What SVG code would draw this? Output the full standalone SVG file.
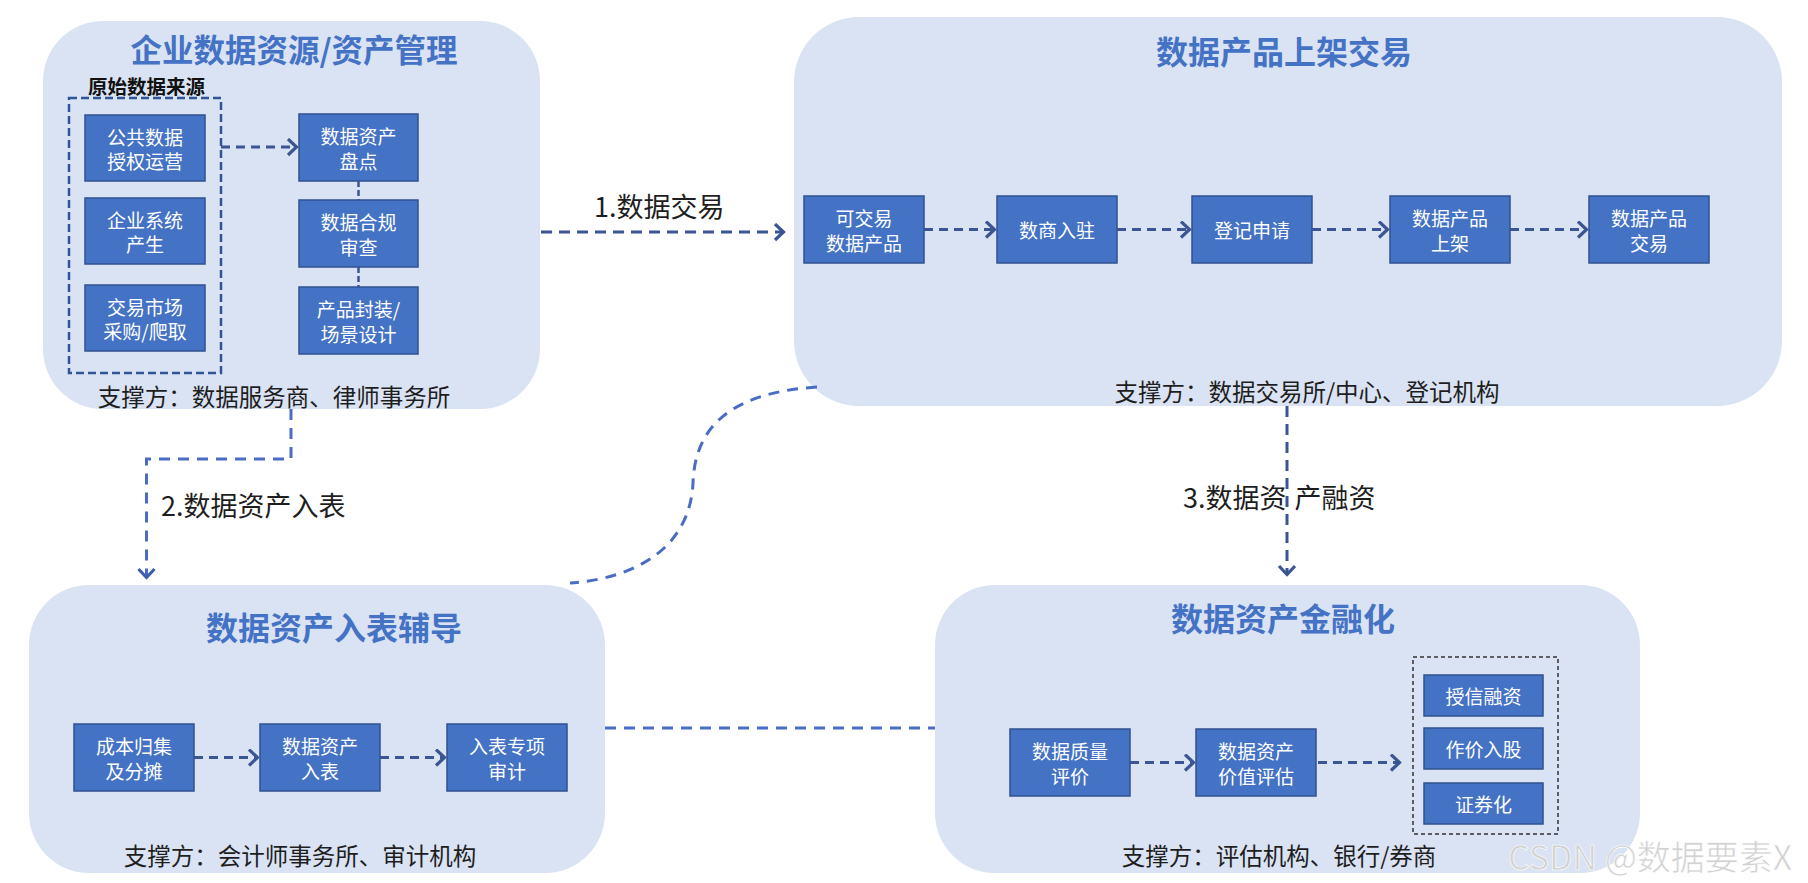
<svg xmlns="http://www.w3.org/2000/svg" width="1808" height="883" viewBox="0 0 1808 883">
<defs>
<style>
text{font-family:"Microsoft YaHei","Noto Sans CJK SC","Noto Sans",sans-serif}
.panel{fill:#DAE3F3}
.title{font-size:32px;font-weight:bold;fill:#4472C4;text-anchor:middle;dominant-baseline:central}
.node rect{fill:#4472C4;stroke:#2F528F;stroke-width:1.5}
.node text{fill:#ffffff;font-size:19px;text-anchor:middle;dominant-baseline:central}
.sup{font-size:23.5px;fill:#1e1e1e;text-anchor:middle;dominant-baseline:central}
.lbl{font-size:27px;fill:#1e1e1e;dominant-baseline:central}
.flow{fill:none;stroke:#3B5593;stroke-width:3;stroke-dasharray:9 6}
.dark{fill:none;stroke:#3B5593;stroke-width:3;stroke-dasharray:11 7}
.light{fill:none;stroke:#4A6CC4;stroke-width:3;stroke-dasharray:11 8}
.solid{fill:none;stroke:#3B5593;stroke-width:2.5;stroke-dasharray:6 3}
</style>
<marker id="arr" markerUnits="userSpaceOnUse" markerWidth="16" markerHeight="20" refX="11" refY="9" orient="auto" viewBox="0 0 16 20">
<path d="M2,1 L10.5,9 L2,17" fill="none" stroke="#3B5593" stroke-width="3.2"/>
</marker>
<marker id="arrL" markerUnits="userSpaceOnUse" markerWidth="16" markerHeight="20" refX="11" refY="9" orient="auto" viewBox="0 0 16 20">
<path d="M2,1 L10.5,9 L2,17" fill="none" stroke="#3F5DAE" stroke-width="3.2"/>
</marker>
</defs>
<rect width="1808" height="883" fill="#ffffff"/>

<g id="panel-enterprise">
<rect class="panel" x="43" y="21" width="497" height="388" rx="60"/>
<text class="title" x="294" y="48" style="font-size:31.5px">企业数据资源/资产管理</text>
<text x="88" y="85" font-size="19.5" font-weight="bold" fill="#111" dominant-baseline="central">原始数据来源</text>
<rect x="69" y="98" width="152" height="275" fill="none" stroke="#2F5597" stroke-width="2.5" stroke-dasharray="8 4"/>
<text class="sup" x="274" y="396">支撑方：数据服务商、律师事务所</text>
</g>
<g id="n-public" class="node"><rect x="85" y="115" width="120" height="66"/><text x="145" y="136">公共数据<tspan x="145" dy="24">授权运营</tspan></text></g>
<g id="n-system" class="node"><rect x="85" y="198" width="120" height="66"/><text x="145" y="219">企业系统<tspan x="145" dy="24">产生</tspan></text></g>
<g id="n-market" class="node"><rect x="85" y="285" width="120" height="66"/><text x="145" y="306">交易市场<tspan x="145" dy="24">采购/爬取</tspan></text></g>
<g id="n-inventory" class="node"><rect x="299" y="114" width="119" height="67"/><text x="358.5" y="135.5">数据资产<tspan x="358.5" dy="24">盘点</tspan></text></g>
<g id="n-compliance" class="node"><rect x="299" y="200" width="119" height="67"/><text x="358.5" y="221.5">数据合规<tspan x="358.5" dy="24">审查</tspan></text></g>
<g id="n-package" class="node"><rect x="299" y="287" width="119" height="67"/><text x="358.5" y="308.5">产品封装/<tspan x="358.5" dy="24">场景设计</tspan></text></g>

<g id="panel-trade">
<rect class="panel" x="794" y="17" width="988" height="389" rx="65"/>
<text class="title" x="1284" y="50">数据产品上架交易</text>
<text class="sup" x="1307" y="391">支撑方：数据交易所/中心、登记机构</text>
</g>
<g id="n-tradable" class="node"><rect x="804" y="196" width="120" height="67"/><text x="864" y="217.5">可交易<tspan x="864" dy="24">数据产品</tspan></text></g>
<g id="n-merchant" class="node"><rect x="997" y="196" width="120" height="67"/><text x="1057" y="229.5">数商入驻</text></g>
<g id="n-register" class="node"><rect x="1192" y="196" width="120" height="67"/><text x="1252" y="229.5">登记申请</text></g>
<g id="n-listing" class="node"><rect x="1390" y="196" width="120" height="67"/><text x="1450" y="217.5">数据产品<tspan x="1450" dy="24">上架</tspan></text></g>
<g id="n-dealing" class="node"><rect x="1589" y="196" width="120" height="67"/><text x="1649" y="217.5">数据产品<tspan x="1649" dy="24">交易</tspan></text></g>

<g id="panel-accounting">
<rect class="panel" x="29" y="585" width="576" height="288" rx="60"/>
<text class="title" x="334" y="626">数据资产入表辅导</text>
<text class="sup" x="300" y="855">支撑方：会计师事务所、审计机构</text>
</g>
<g id="n-cost" class="node"><rect x="74" y="724" width="120" height="67"/><text x="134" y="745.5">成本归集<tspan x="134" dy="24">及分摊</tspan></text></g>
<g id="n-book" class="node"><rect x="260" y="724" width="120" height="67"/><text x="320" y="745.5">数据资产<tspan x="320" dy="24">入表</tspan></text></g>
<g id="n-audit" class="node"><rect x="447" y="724" width="120" height="67"/><text x="507" y="745.5">入表专项<tspan x="507" dy="24">审计</tspan></text></g>

<g id="panel-finance">
<rect class="panel" x="935" y="585" width="705" height="288" rx="60"/>
<text class="title" x="1283" y="617">数据资产金融化</text>
<rect x="1413" y="657" width="145" height="177" fill="none" stroke="#333" stroke-width="1.5" stroke-dasharray="4 3"/>
<text class="sup" x="1279" y="855">支撑方：评估机构、银行/券商</text>
</g>
<g id="n-quality" class="node"><rect x="1010" y="729" width="120" height="67"/><text x="1070" y="750.5">数据质量<tspan x="1070" dy="24">评价</tspan></text></g>
<g id="n-valuation" class="node"><rect x="1196" y="729" width="120" height="67"/><text x="1256" y="750.5">数据资产<tspan x="1256" dy="24">价值评估</tspan></text></g>
<g id="n-credit" class="node"><rect x="1424" y="675" width="119" height="41"/><text x="1483.5" y="695.5">授信融资</text></g>
<g id="n-equity" class="node"><rect x="1424" y="728" width="119" height="41"/><text x="1483.5" y="748.5">作价入股</text></g>
<g id="n-securitize" class="node"><rect x="1424" y="783" width="119" height="41"/><text x="1483.5" y="803.5">证券化</text></g>

<g id="connectors">
<path class="flow" d="M221,147 L297,147" marker-end="url(#arr)"/>
<path class="solid" d="M358.5,181 L358.5,200"/>
<path class="solid" d="M358.5,267 L358.5,287"/>
<path class="flow" d="M924,229.5 L995,229.5" marker-end="url(#arr)"/>
<path class="flow" d="M1117,229.5 L1190,229.5" marker-end="url(#arr)"/>
<path class="flow" d="M1312,229.5 L1388,229.5" marker-end="url(#arr)"/>
<path class="flow" d="M1510,229.5 L1587,229.5" marker-end="url(#arr)"/>
<path class="flow" d="M194,757.5 L258,757.5" marker-end="url(#arr)"/>
<path class="flow" d="M380,757.5 L445,757.5" marker-end="url(#arr)"/>
<path class="flow" d="M1130,762.5 L1194,762.5" marker-end="url(#arr)"/>
<path class="flow" d="M1318,762.5 L1400,762.5" marker-end="url(#arr)"/>

<path class="dark" d="M541,232 L784,232" marker-end="url(#arr)"/>
<text class="lbl" x="594" y="205">1.数据交易</text>
<path class="light" d="M291,409 L291,459 L146.5,459 L146.5,578" marker-end="url(#arrL)"/>
<text class="lbl" x="161" y="504">2.数据资产入表</text>
<path class="dark" d="M1287,406 L1287,575" marker-end="url(#arr)"/>
<text class="lbl" x="1183" y="496">3.数据资<tspan dx="8">产融资</tspan></text>
<path class="light" d="M817,387 C740,392 695,420 693,483 C690,545 640,578 570,583"/>
<path class="light" d="M605,728 L935,728"/>
</g>

<text x="1508" y="855" font-size="34" fill="#d2d2d2" stroke="#ffffff" stroke-width="0.6" dominant-baseline="central">CSDN @数据要素X</text>
</svg>
